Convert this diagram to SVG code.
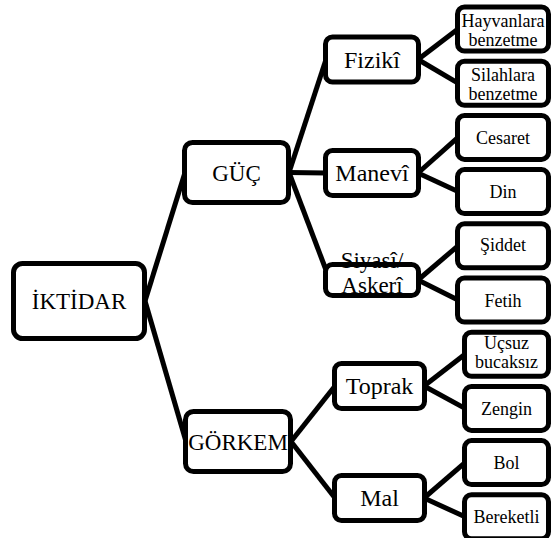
<svg xmlns="http://www.w3.org/2000/svg" width="551" height="538" viewBox="0 0 551 538">
<style>
.box{fill:#fff;stroke:#000;stroke-width:5}
.lk{stroke:#000;stroke-width:5;fill:none}
.tx{font-family:'Liberation Serif','Times New Roman','DejaVu Serif',serif;fill:#000;text-anchor:middle}
.t1{font-size:23px}
.t2{font-size:24px}
.t3{font-size:18px}
</style>
<rect width="551" height="538" fill="#fff"/>
<g id="connectors">
<line class="lk" x1="145" y1="301" x2="185" y2="172.5"/>
<line class="lk" x1="145" y1="301" x2="186" y2="441.5"/>
<line class="lk" x1="289" y1="172.5" x2="326" y2="59.5"/>
<line class="lk" x1="289" y1="172.5" x2="326" y2="173"/>
<line class="lk" x1="289" y1="172.5" x2="326" y2="270"/>
<line class="lk" x1="291" y1="441.5" x2="335" y2="386"/>
<line class="lk" x1="291" y1="441.5" x2="335" y2="498"/>
<line class="lk" x1="418" y1="59.5" x2="458" y2="29"/>
<line class="lk" x1="418" y1="59.5" x2="458" y2="83.2"/>
<line class="lk" x1="418" y1="173" x2="458" y2="137.4"/>
<line class="lk" x1="418" y1="173" x2="458" y2="191.6"/>
<line class="lk" x1="418" y1="280" x2="458" y2="245.8"/>
<line class="lk" x1="418" y1="280" x2="458" y2="300"/>
<line class="lk" x1="424" y1="386" x2="465" y2="354.2"/>
<line class="lk" x1="424" y1="386" x2="465" y2="408.4"/>
<line class="lk" x1="424" y1="498" x2="465" y2="462.6"/>
<line class="lk" x1="424" y1="498" x2="465" y2="516.8"/>
</g>
<g id="iktidar"><rect class="box" x="13.5" y="263.5" width="131" height="75" rx="9"/><text class="tx t1" font-family="Liberation Serif, serif" x="79" y="309">İKTİDAR</text></g>
<g id="guc"><rect class="box" x="184.5" y="142.5" width="104" height="60" rx="8"/><text class="tx t1" font-family="Liberation Serif, serif" x="236.5" y="180.5">GÜÇ</text></g>
<g id="gorkem"><rect class="box" x="185.5" y="411.5" width="105" height="60" rx="8"/><text class="tx t1" font-family="Liberation Serif, serif" x="238" y="449.5">GÖRKEM</text></g>
<g id="fiziki"><rect class="box" x="325.5" y="37" width="93" height="45" rx="7"/><text class="tx t2" font-family="Liberation Serif, serif" x="372" y="67.5">Fizikî</text></g>
<g id="manevi"><rect class="box" x="325.5" y="150.5" width="93" height="45" rx="7"/><text class="tx t2" font-family="Liberation Serif, serif" x="372" y="181">Manevî</text></g>
<g id="siyasi"><rect class="box" x="325.5" y="264.5" width="93" height="31" rx="7"/><text class="tx" font-family="Liberation Serif, serif" font-size="23" x="372" y="268">Siyasî/</text><text class="tx" font-family="Liberation Serif, serif" font-size="23" x="372" y="293">Askerî</text></g>
<g id="toprak"><rect class="box" x="334.5" y="363.5" width="90" height="45" rx="7"/><text class="tx t2" font-family="Liberation Serif, serif" x="379.5" y="394">Toprak</text></g>
<g id="mal"><rect class="box" x="334.5" y="475.5" width="90" height="45" rx="7"/><text class="tx t2" font-family="Liberation Serif, serif" x="379.5" y="506">Mal</text></g>
<g id="hayvanlara"><rect class="box" x="457.5" y="7" width="91" height="44" rx="7"/><text class="tx t3" font-family="Liberation Serif, serif" x="503" y="27">Hayvanlara</text><text class="tx t3" font-family="Liberation Serif, serif" x="503" y="46">benzetme</text></g>
<g id="silahlara"><rect class="box" x="457.5" y="61.2" width="91" height="44" rx="7"/><text class="tx t3" font-family="Liberation Serif, serif" x="503" y="81">Silahlara</text><text class="tx t3" font-family="Liberation Serif, serif" x="503" y="100">benzetme</text></g>
<g id="cesaret"><rect class="box" x="457.5" y="115.4" width="91" height="44" rx="7"/><text class="tx t3" font-family="Liberation Serif, serif" x="503" y="144">Cesaret</text></g>
<g id="din"><rect class="box" x="457.5" y="169.6" width="91" height="44" rx="7"/><text class="tx t3" font-family="Liberation Serif, serif" x="503" y="198">Din</text></g>
<g id="siddet"><rect class="box" x="457.5" y="223.8" width="91" height="44" rx="7"/><text class="tx t3" font-family="Liberation Serif, serif" x="503" y="251">Şiddet</text></g>
<g id="fetih"><rect class="box" x="457.5" y="278" width="91" height="44" rx="7"/><text class="tx t3" font-family="Liberation Serif, serif" x="503" y="307">Fetih</text></g>
<g id="ucsuz"><rect class="box" x="464.5" y="332.2" width="84" height="44" rx="7"/><text class="tx t3" font-family="Liberation Serif, serif" x="506.5" y="349">Uçsuz</text><text class="tx t3" font-family="Liberation Serif, serif" x="506.5" y="368">bucaksız</text></g>
<g id="zengin"><rect class="box" x="464.5" y="386.4" width="84" height="44" rx="7"/><text class="tx t3" font-family="Liberation Serif, serif" x="506.5" y="415">Zengin</text></g>
<g id="bol"><rect class="box" x="464.5" y="440.6" width="84" height="44" rx="7"/><text class="tx t3" font-family="Liberation Serif, serif" x="506.5" y="469">Bol</text></g>
<g id="bereketli"><rect class="box" x="464.5" y="494.8" width="84" height="44" rx="7"/><text class="tx t3" font-family="Liberation Serif, serif" x="506.5" y="523">Bereketli</text></g>
</svg>
